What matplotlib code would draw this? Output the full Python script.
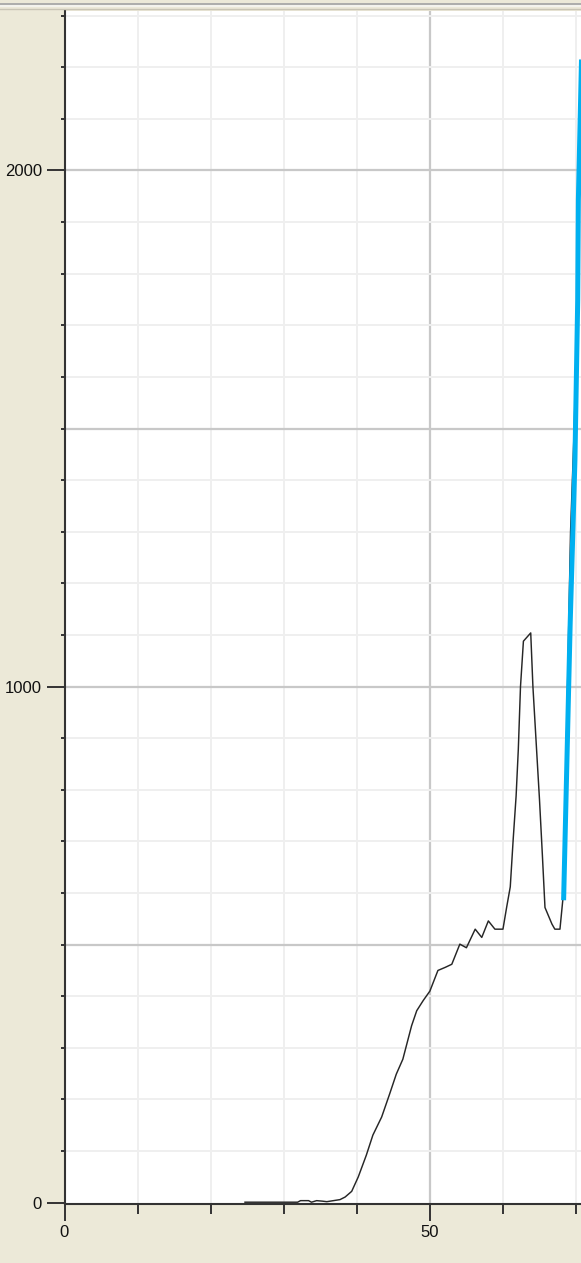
import numpy as np
import matplotlib
matplotlib.use("Agg")
import matplotlib.pyplot as plt
from matplotlib.lines import Line2D
from matplotlib.ticker import MultipleLocator, FixedLocator

# measured profile (black trace)
profile_x = [24.7, 31.9, 32.3, 33.4, 33.8, 34.5, 35.3, 35.9, 36.8, 37.7,
             38.4, 39.3, 40.2, 41.3, 42.2, 43.4, 44.5, 45.4, 46.3, 47.5,
             48.2, 49.1, 50.0, 51.1, 52.1, 53.0, 54.1, 55.0, 56.2, 57.1,
             58.0, 58.9, 60.0, 60.5, 61.0, 61.4, 61.8, 62.1, 62.4, 62.8,
             63.8, 64.1, 64.6, 65.0, 65.4, 65.75, 66.7, 67.1, 67.8, 68.2,
             68.7, 69.25, 69.75, 70.2, 70.33, 70.8]
profile_y = [1, 1, 4, 4, 1, 4, 3, 2, 4, 6,
             11, 22, 50, 92, 131, 166, 211, 249, 278, 343,
             372, 392, 410, 450, 456, 462, 501, 494, 530, 514,
             546, 530, 530, 572, 612, 704, 788, 878, 1000, 1088,
             1104, 1000, 878, 781, 672, 572, 540, 530, 530, 588,
             900, 1300, 1500, 1750, 1950, 2230]

# fitted rise (blue trace)
fit_x = [68.3, 69.2, 69.85, 70.23, 70.32, 70.75]
fit_y = [586, 1123, 1439, 1749, 1943, 2215]

W, H = 581, 1263
BG = "#ECE9D8"
DARK = "#333333"

plt.rcParams["font.family"] = ["Liberation Sans", "DejaVu Sans"]

fig = plt.figure(figsize=(W / 100, H / 100), dpi=100, facecolor=BG)
ax = fig.add_axes([64.5 / W, (H - 1204) / H, 1 - 64.5 / W, (1204 - 11) / H])
ax.set_facecolor("white")

ax.set_xlim(0, 70.68)
ax.set_ylim(-2.5, 2309)

# grid: light every 10 / 100, darker every 50 / 500
for v in range(10, 71, 10):
    ax.axvline(v, color="#C8C8C8" if v % 50 == 0 else "#EFEFEF",
               lw=1.6 if v % 50 == 0 else 1.4, zorder=0)
for v in range(100, 2400, 100):
    ax.axhline(v, color="#C8C8C8" if v % 500 == 0 else "#EFEFEF",
               lw=1.6 if v % 500 == 0 else 1.4, zorder=0)

ax.plot(profile_x, profile_y, color="#262626", lw=1.05, zorder=3)
ax.plot(fit_x, fit_y, color="#00B0F0", lw=3.6, solid_capstyle="butt", zorder=4)

for s in ["top", "right"]:
    ax.spines[s].set_visible(False)
for s in ["left", "bottom"]:
    ax.spines[s].set_color(DARK)
    ax.spines[s].set_linewidth(1.5)
    ax.spines[s].set_zorder(5)

ax.xaxis.set_major_locator(FixedLocator([0, 50]))
ax.xaxis.set_minor_locator(MultipleLocator(10))
ax.yaxis.set_major_locator(FixedLocator([0, 1000, 2000]))
ax.yaxis.set_minor_locator(MultipleLocator(100))

ax.tick_params(axis="x", which="major", length=12.2, width=1.4, color=DARK,
               pad=3.2, labelsize=12, labelcolor="#111111")
ax.tick_params(axis="x", which="minor", length=7.2, width=1.4, color=DARK)
ax.tick_params(axis="y", which="major", length=13, width=1.4, color=DARK,
               pad=3.2, labelsize=12, labelcolor="#111111")
ax.tick_params(axis="y", which="minor", length=3, width=1.4, color=DARK)

# window frame strip along the top
for y_px, col, w in [(4.3, "#A8A8A8", 1.3), (6.3, "#F6F6F2", 1.2), (9.3, "#C9C5B5", 1.0)]:
    fig.add_artist(Line2D([0, 1], [1 - y_px / H] * 2, transform=fig.transFigure,
                          color=col, lw=w))

fig.savefig("out.png", dpi=100, facecolor=BG)
